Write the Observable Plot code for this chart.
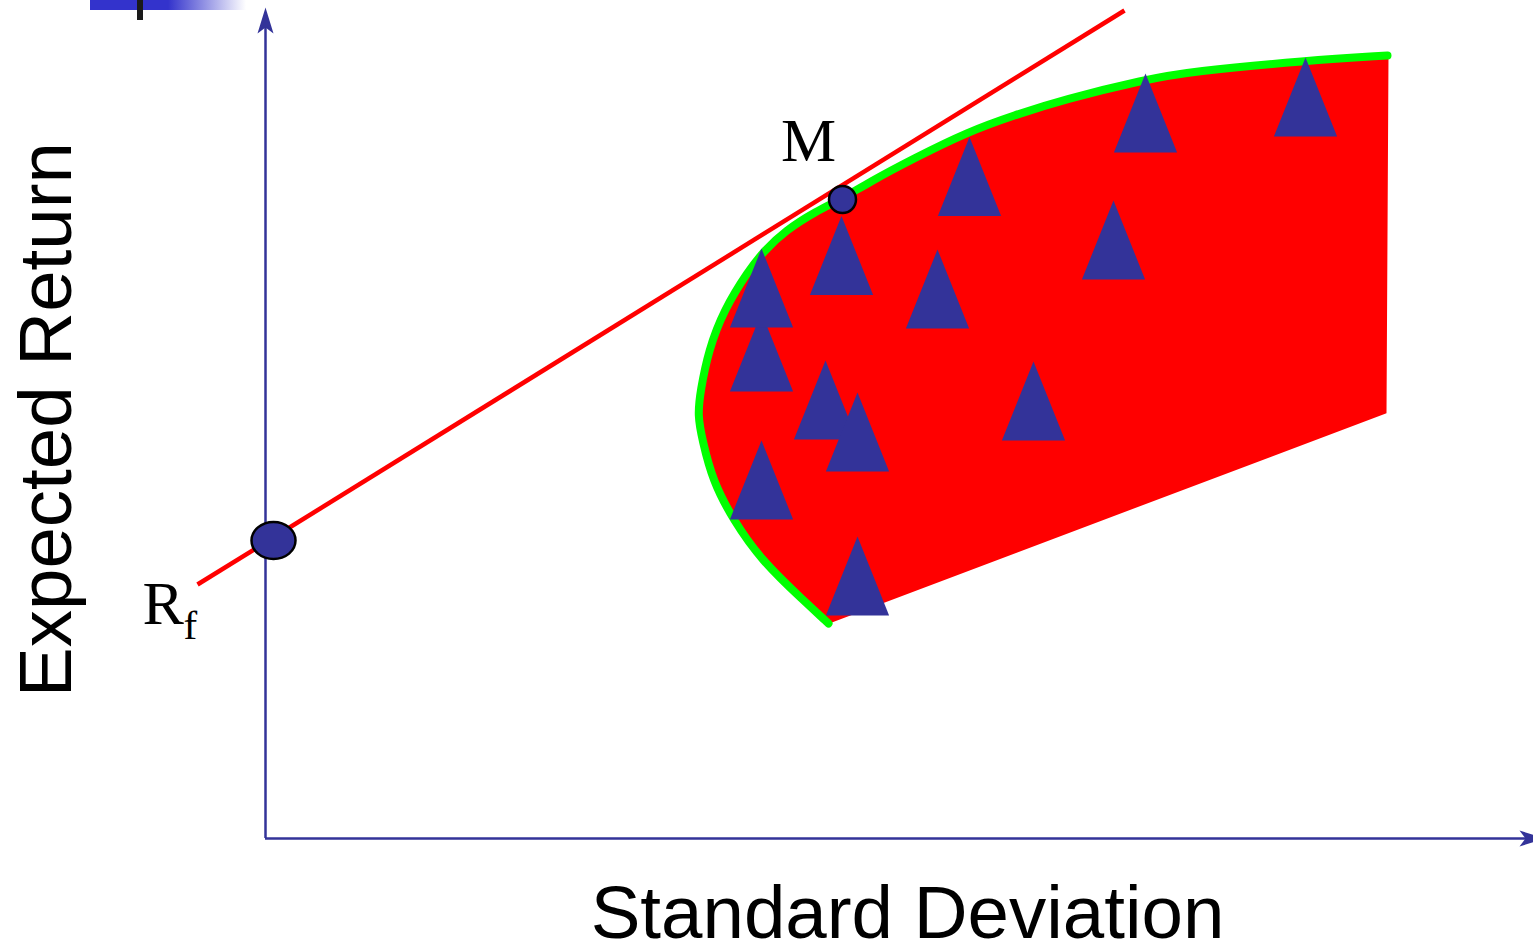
<!DOCTYPE html>
<html>
<head>
<meta charset="utf-8">
<script src="https://cdn.jsdelivr.net/npm/d3@7"></script>
<script src="https://cdn.jsdelivr.net/npm/@observablehq/plot@0.6"></script>
<style>
  html, body { margin: 0; padding: 0; background: #fff; overflow: hidden; }
  #wrap { position: relative; width: 1533px; height: 943px; }
  #bar { position: absolute; left: 90px; top: 0; width: 156px; height: 10px;
         background: linear-gradient(to right, #3333cc 0%, #3333cc 50%, rgba(51,51,204,0) 100%); }
  #tick { position: absolute; left: 137px; top: 0; width: 6px; height: 20px; background: #1a1a1a; }
  #chart { position: absolute; left: 0; top: 0; }
</style>
</head>
<body>
<div id="wrap">
  <div id="chart"></div>
  <div id="bar"></div>
  <div id="tick"></div>
</div>
<script>
// ---- data (x = standard deviation, y = expected return, arbitrary units) ----
// boundary of the feasible set from bottom to top
const frontierX = [5.63, 5.38, 4.96, 4.68, 4.47, 4.37, 4.32, 4.35, 4.43, 4.58, 4.83, 4.99, 5.20, 5.50, 5.77, 6.03, 6.48, 7.03, 7.48, 7.98, 8.80, 9.25, 10.42, 11.22];
const frontierY = [2.15, 2.38, 2.78, 3.18, 3.58, 3.98, 4.23, 4.48, 4.88, 5.28, 5.68, 5.88, 6.08, 6.27, 6.40, 6.56, 6.80, 7.07, 7.23, 7.39, 7.59, 7.67, 7.78, 7.83];
// remaining corners of the feasible region (right edge and lower boundary)
const regionCornerX = [11.20, 5.66];
const regionCornerY = [4.26, 2.17];
// individual assets (triangles)
const assetX = [4.96, 4.96, 4.96, 5.76, 5.60, 5.92, 5.92, 6.72, 7.04, 7.68, 8.48, 8.80, 10.40];
const assetY = [4.865, 5.505, 3.585, 5.83, 4.385, 4.065, 2.625, 5.495, 6.62, 4.375, 5.985, 7.255, 7.415];
// capital market line (two ends)
const cmlX = [-0.68, 8.59];
const cmlY = [2.54, 8.28];
// risk-free asset and market portfolio
const rfPoint = {x: 0.08, y: 2.98};
const mPoint = {x: 5.77, y: 6.39};
// labels
const xLabel = "Standard Deviation";
const yLabel = "Expected Return";
const mLabel = "M";
const rfMain = "R";
const rfSub = "f";
// axis extents
const xMax = 12.68, yMax = 8.30;

// ---- build tables ----
const frontier = frontierX.map((x, i) => ({x, y: frontierY[i]}));
// the part of the region to the right of the straight chord joining the frontier's two ends
const regionRest = [frontier[frontier.length - 1]]
  .concat(regionCornerX.map((x, i) => ({x, y: regionCornerY[i]})))
  .concat([frontier[0]]);
const assets = assetX.map((x, i) => ({x, y: assetY[i]}));
const cml = cmlX.map((x, i) => ({x, y: cmlY[i]}));

// ---- custom symbols ----
const triangleSymbol = {
  draw(ctx, size) {
    const r = Math.sqrt(size / Math.PI);   // r = half height
    const h = r, w = r * 0.8;
    ctx.moveTo(0, -h);
    ctx.lineTo(w, h);
    ctx.lineTo(-w, h);
    ctx.closePath();
  }
};
function ellipseSymbol(aspect) {
  return {
    draw(ctx, size) {
      const ry = Math.sqrt(size / Math.PI), rx = ry * aspect, k = 0.5523;
      ctx.moveTo(rx, 0);
      ctx.bezierCurveTo(rx, k * ry, k * rx, ry, 0, ry);
      ctx.bezierCurveTo(-k * rx, ry, -rx, k * ry, -rx, 0);
      ctx.bezierCurveTo(-rx, -k * ry, -k * rx, -ry, 0, -ry);
      ctx.bezierCurveTo(k * rx, -ry, rx, -k * ry, rx, 0);
      ctx.closePath();
    }
  };
}
const arrowSymbol = {
  draw(ctx, size) {
    const s = Math.sqrt(size / Math.PI) / 10; // r=10 -> unit scale
    ctx.moveTo(0, 0);
    ctx.lineTo(8 * s, 26 * s);
    ctx.lineTo(0, 20 * s);
    ctx.lineTo(-8 * s, 26 * s);
    ctx.closePath();
  }
};

const navy = "#333399";

const chart = Plot.plot({
  width: 1533,
  height: 943,
  marginLeft: 265,
  marginRight: 0,
  marginTop: 8,
  marginBottom: 105,
  style: {background: "transparent", overflow: "visible"},
  x: {domain: [0, xMax], axis: null},
  y: {domain: [0, yMax], axis: null},
  marks: [
    // axes
    Plot.ruleX([0], {y1: 0, y2: 8.12, stroke: navy, strokeWidth: 2.5}),
    Plot.ruleY([0], {x1: 0, x2: 12.62, stroke: navy, strokeWidth: 2.5}),
    Plot.dot([{x: 0, y: 8.31}], {x: "x", y: "y", symbol: arrowSymbol, r: 10, fill: navy, stroke: "none"}),
    Plot.dot([{x: 12.80, y: 0}], {x: "x", y: "y", symbol: arrowSymbol, r: 10, rotate: 90, fill: navy, stroke: "none"}),
    // feasible region: smooth part bounded by the frontier, then the straight-edged rest (its stroke hides the seam)
    Plot.line(frontier, {x: "x", y: "y", fill: "#ff0000", stroke: "none", curve: "basis"}),
    Plot.line(regionRest, {x: "x", y: "y", fill: "#ff0000", stroke: "#ff0000", strokeWidth: 2, strokeLinejoin: "miter", strokeMiterlimit: 4, curve: "linear-closed"}),
    // efficient frontier
    Plot.line(frontier, {x: "x", y: "y", stroke: "#00ff00", strokeWidth: 8, strokeLinecap: "round", curve: "basis"}),
    // assets
    Plot.dot(assets, {x: "x", y: "y", symbol: triangleSymbol, r: 39.5, fill: navy, stroke: "none"}),
    // capital market line
    Plot.line(cml, {x: "x", y: "y", stroke: "#ff0000", strokeWidth: 4.5, strokeLinecap: "butt"}),
    // Rf and M points
    Plot.dot([rfPoint], {x: "x", y: "y", symbol: ellipseSymbol(22 / 18.5), r: 18.5, fill: navy, stroke: "#000", strokeWidth: 2.5}),
    Plot.dot([mPoint], {x: "x", y: "y", r: 13.5, fill: navy, stroke: "#000", strokeWidth: 2.5}),
    // labels
    Plot.text([mLabel], {x: 5.43, y: 6.78, text: d => d, fontSize: 62, fontFamily: "Liberation Serif", fill: "#000", textAnchor: "middle", lineAnchor: "bottom"}),
    Plot.text([rfMain], {x: -1.23, y: 2.15, text: d => d, fontSize: 62, fontFamily: "Liberation Serif", fill: "#000", textAnchor: "start", lineAnchor: "bottom"}),
    Plot.text([rfSub], {x: -0.82, y: 2.00, text: d => d, fontSize: 41, fontFamily: "Liberation Serif", fill: "#000", textAnchor: "start", lineAnchor: "bottom"}),
    Plot.text([xLabel], {x: 6.42, y: -0.99, text: d => d, fontSize: 74.5, fontFamily: "Liberation Sans", fill: "#000", textAnchor: "middle", lineAnchor: "bottom"}),
    Plot.text([yLabel], {x: -1.95, y: 4.19, text: d => d, fontSize: 74.5, fontFamily: "Liberation Sans", fill: "#000", textAnchor: "middle", lineAnchor: "bottom", rotate: -90})
  ]
});
document.getElementById("chart").appendChild(chart);
</script>
</body>
</html>
